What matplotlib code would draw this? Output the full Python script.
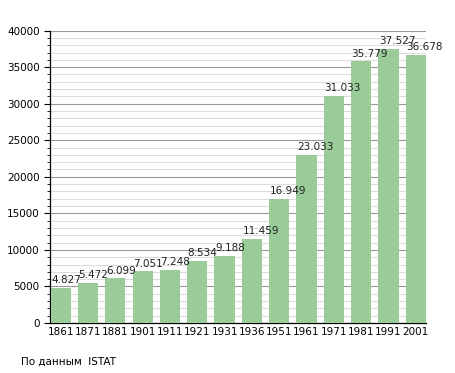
import matplotlib.pyplot as plt
from matplotlib.ticker import MultipleLocator

anni = ["1861", "1871", "1881", "1901", "1911", "1921", "1931",
        "1936", "1951", "1961", "1971", "1981", "1991", "2001"]
abitanti = [4827, 5472, 6099, 7051, 7248, 8534, 9188,
            11459, 16949, 23033, 31033, 35779, 37527, 36678]
etichette = ["4.827", "5.472", "6.099", "7.051", "7.248", "8.534", "9.188",
             "11.459", "16.949", "23.033", "31.033", "35.779", "37.527", "36.678"]

fig = plt.figure(figsize=(4.55, 3.73), dpi=100)
ax = fig.add_axes([0.110, 0.134, 0.826, 0.784])

larghezza = 0.74
x = range(len(anni))
ax.bar(x, abitanti, width=larghezza, color="#99cc99", zorder=3)

# etichette sopra le barre, allineate al bordo sinistro della barra
for i, (v, t) in enumerate(zip(abitanti, etichette)):
    ax.text(i - larghezza / 2 + 0.02, v + 400, t, ha="left", va="bottom",
            fontsize=7.5, color="#222222", zorder=4, clip_on=False)

ax.set_xlim(-larghezza / 2 - 0.02, len(anni) - 1 + larghezza / 2)
ax.set_ylim(0, 40000)
ax.set_xticks(list(x))
ax.set_xticklabels(anni, fontsize=7.5)
ax.yaxis.set_major_locator(MultipleLocator(5000))
ax.yaxis.set_minor_locator(MultipleLocator(1000))
ax.tick_params(axis="y", labelsize=7.5, length=4, width=0.8)
ax.tick_params(axis="y", which="minor", length=2, width=0.6)
ax.tick_params(axis="x", length=0, pad=3)

ax.grid(axis="y", which="major", color="#999999", linewidth=0.8, zorder=0)
ax.grid(axis="y", which="minor", color="#dddddd", linewidth=0.8, zorder=0)

ax.spines["top"].set_visible(False)
ax.spines["right"].set_visible(False)
ax.spines["left"].set_linewidth(0.9)
ax.spines["bottom"].set_linewidth(0.9)

fig.text(21 / 455, 1 - 362 / 373, "По данным  ISTAT", fontsize=7.5, va="center")

fig.savefig("out.png", dpi=100)
